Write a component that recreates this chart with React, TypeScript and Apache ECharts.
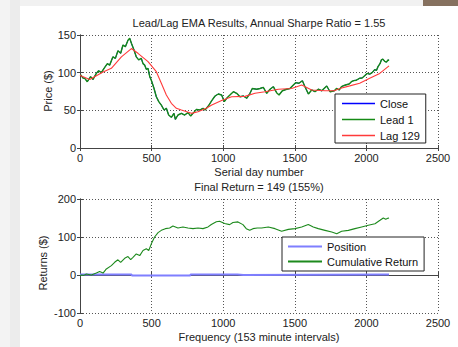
import React, { useEffect, useRef } from "react";
import * as echarts from "echarts";

// ---- Top panel: price (Close = Lead 1), Lag 129 EMA ----
const leadDays = [0, 5, 20, 33, 51, 74, 91, 114, 130, 149, 168, 191, 207, 230, 247, 265, 284, 300, 317, 335, 347, 359, 377, 393, 410, 428, 440, 452, 463, 475, 487, 498, 517, 533, 550, 568, 587, 603, 619, 638, 656, 666, 684, 708, 731, 754, 773, 789, 813, 836, 859, 873, 896, 920, 943, 966, 989, 1008, 1024, 1047, 1071, 1094, 1117, 1141, 1164, 1187, 1203, 1234, 1257, 1280, 1304, 1327, 1350, 1373, 1390, 1413, 1443, 1466, 1483, 1506, 1529, 1553, 1571, 1595, 1618, 1641, 1664, 1688, 1723, 1746, 1776, 1791, 1810, 1826, 1845, 1860, 1880, 1895, 1912, 1930, 1953, 1970, 1988, 2005, 2023, 2040, 2058, 2070, 2081, 2095, 2105, 2115, 2128, 2140, 2151, 2158];
const leadPrice = [97, 97, 93, 92.5, 88, 94.7, 91, 99, 102.6, 100, 105.8, 112, 110, 121, 119, 129, 125.7, 136.7, 134.5, 143, 145.6, 139, 130, 121, 117, 119, 112, 110, 104.4, 105.8, 94.7, 90, 79, 68, 61.5, 57, 50.4, 52.7, 43.8, 40.7, 46, 38, 43.8, 46, 43.8, 47, 42.5, 46, 51.3, 50.4, 52.7, 50.4, 55.7, 62.8, 69, 71.7, 70.4, 61.5, 65.9, 70.4, 74.7, 72.6, 68, 69, 66, 72.6, 79, 78, 79, 80.5, 72.6, 78, 81.4, 73.4, 70.4, 76, 78, 79, 82.3, 86.7, 85.9, 89.3, 81.4, 71.7, 77, 74.7, 78, 76, 82.3, 74.7, 76, 79, 77, 81.5, 83, 84, 85, 88, 89.5, 90, 92.6, 93, 96, 99, 98, 100, 104, 103, 108, 112, 117, 118, 115, 114, 117, 116];
const lagDays = [0, 5, 68, 161, 219, 289, 359, 405, 475, 533, 568, 603, 638, 673, 708, 778, 824, 882, 920, 989, 1059, 1152, 1222, 1292, 1385, 1478, 1548, 1618, 1711, 1776, 1814, 1884, 1953, 2023, 2093, 2158];
const lagPrice = [97, 96, 91, 101, 105.8, 121, 132, 125.7, 114.6, 101.3, 85.9, 70.4, 59.3, 52.7, 50.4, 46, 48.2, 52.7, 57, 63, 68, 68.5, 72.6, 74.7, 78, 79, 83.6, 77, 76, 76, 79, 82.5, 86, 92.6, 99, 109];

// ---- Bottom panel: position and cumulative return ----
const retDays = [0, 9, 25, 44, 79, 114, 137, 161, 184, 219, 242, 265, 284, 312, 335, 354, 370, 393, 417, 440, 463, 480, 498, 521, 545, 568, 596, 626, 649, 684, 719, 754, 789, 824, 859, 894, 917, 952, 975, 1010, 1045, 1068, 1103, 1138, 1161, 1185, 1208, 1238, 1268, 1315, 1362, 1408, 1455, 1501, 1548, 1594, 1629, 1664, 1711, 1758, 1793, 1827, 1874, 1920, 1967, 2013, 2060, 2095, 2118, 2135, 2153, 2158];
const retValue = [-2, 0, -1, 2.6, 0, 5, 9, 5, 16, 24.7, 33.4, 40, 33, 44, 48.5, 40.6, 46.4, 55.3, 51, 64.5, 69, 64.5, 82, 100, 111.5, 117.5, 122, 123.6, 129, 123.6, 126.5, 123.6, 122, 123.6, 122, 126.5, 133, 140, 141.4, 135.3, 132.6, 138, 139.7, 132.6, 122, 117.5, 122, 123.6, 123.6, 126.5, 122, 115, 120, 122, 126.5, 133, 126.5, 122, 117.5, 113, 108.8, 115, 117.5, 122, 126.5, 131, 135, 144, 150, 146.7, 150, 149];
const posDays = [0, 360, 362, 770, 772, 1100, 1102, 1140, 1142, 2158];
const posValue = [1, 1, -1, -1, 1, 1, 0, 0, 1, 1];

const xTicksMax = 2500;
const priceRange = [0, 150];
const retRange = [-100, 200];

const FONT = "'Liberation Sans', Arial, Helvetica, sans-serif";
const zip = (xs: number[], ys: number[]) => xs.map((x, i) => [x, ys[i]]);

const C_CLOSE = "#0000ff";
const C_LEAD = "#158a15";
const C_LAG = "#ff3a3a";
const C_POS = "#7f7fff";
const C_RET = "#1d8a1d";

export default function App() {
  const ref = useRef<HTMLDivElement>(null);
  useEffect(() => {
    if (!ref.current) return;
    const chart = echarts.init(ref.current, undefined, { renderer: "svg" });
    const grids = [
      { left: 80, top: 35, width: 358, height: 113 },
      { left: 80, top: 199, width: 358, height: 114 },
    ];
    const gridLine = { show: true, lineStyle: { color: "#555", type: [1, 2] as any, width: 1 } };
    const label = { color: "#222", fontSize: 11, fontFamily: FONT, formatter: (v: number) => String(v) };
    const axisCol = { show: true, lineStyle: { color: "#444" } };
    const tick = { show: true, inside: true, length: 3, lineStyle: { color: "#444" } };
    const mkX = (gi: number) => [
      {
        type: "value", gridIndex: gi, min: 0, max: xTicksMax, interval: 500,
        axisLine: axisCol, axisTick: tick, axisLabel: { ...label, margin: 4 }, splitLine: gridLine,
      },
      {
        type: "value", gridIndex: gi, min: 0, max: xTicksMax, interval: 500, position: "top",
        axisLine: axisCol, axisTick: tick, axisLabel: { show: false }, splitLine: { show: false },
      },
    ];
    const mkY = (gi: number, r: number[], iv: number) => [
      {
        type: "value", gridIndex: gi, min: r[0], max: r[1], interval: iv,
        axisLine: axisCol, axisTick: tick, axisLabel: { ...label, margin: 4 }, splitLine: gridLine,
      },
      {
        type: "value", gridIndex: gi, min: r[0], max: r[1], interval: iv, position: "right",
        axisLine: axisCol, axisTick: tick, axisLabel: { show: false }, splitLine: { show: false },
      },
    ];
    const txt = (text: string, x: number, y: number, rot = 0) => ({
      type: "text", x, y, rotation: rot, silent: true,
      style: { text, fill: "#222", font: `11px ${FONT}`, textAlign: "center", textVerticalAlign: "middle" },
    });
    const legendText = { color: "#111", fontSize: 11, fontFamily: FONT };
    chart.setOption({
      animation: false,
      backgroundColor: "#ffffff",
      grid: grids,
      xAxis: [...mkX(0), ...mkX(1)],
      yAxis: [...mkY(0, priceRange, 50), ...mkY(1, retRange, 100)],
      legend: [
        {
          data: ["Close", "Lead 1", "Lag 129"], icon: "rect",
          orient: "vertical", left: 335, top: 94,
          itemWidth: 33, itemHeight: 1.5, itemGap: 5, padding: [4, 6, 2, 7],
          borderColor: "#222", borderWidth: 1, backgroundColor: "#fff",
          textStyle: legendText, selectedMode: false,
        },
        {
          data: ["Position", "Cumulative Return"], icon: "rect",
          orient: "vertical", left: 282, top: 237,
          itemWidth: 34, itemHeight: 2, itemGap: 4, padding: [4, 6, 4, 6],
          borderColor: "#222", borderWidth: 1, backgroundColor: "#fff",
          textStyle: legendText, selectedMode: false,
        },
      ],
      series: [
        { name: "Close", type: "line", xAxisIndex: 0, yAxisIndex: 0, data: zip(leadDays, leadPrice), symbol: "none", color: C_CLOSE, lineStyle: { color: C_CLOSE, width: 1 }, itemStyle: { color: C_CLOSE } },
        { name: "Lead 1", type: "line", xAxisIndex: 0, yAxisIndex: 0, data: zip(leadDays, leadPrice), symbol: "none", color: C_LEAD, lineStyle: { color: C_LEAD, width: 1.4 }, itemStyle: { color: C_LEAD } },
        { name: "Lag 129", type: "line", xAxisIndex: 0, yAxisIndex: 0, data: zip(lagDays, lagPrice), symbol: "none", color: C_LAG, lineStyle: { color: C_LAG, width: 1.1 }, itemStyle: { color: C_LAG } },
        { name: "Position", type: "line", xAxisIndex: 2, yAxisIndex: 2, data: zip(posDays, posValue), symbol: "none", color: C_POS, lineStyle: { color: C_POS, width: 2 }, itemStyle: { color: C_POS } },
        { name: "Cumulative Return", type: "line", xAxisIndex: 2, yAxisIndex: 2, data: zip(retDays, retValue), symbol: "none", color: C_RET, lineStyle: { color: C_RET, width: 1.1 }, itemStyle: { color: C_RET } },
      ],
      graphic: [
        { type: "rect", shape: { x: 0, y: 0, width: 10, height: 347 }, style: { fill: "#f3f3f3" }, silent: true, z: -10 },
        { type: "rect", shape: { x: 10, y: 0, width: 10, height: 347 }, style: { fill: "#ececec" }, silent: true, z: -10 },
        { type: "rect", shape: { x: 20, y: 0, width: 403, height: 6 }, style: { fill: "#f1f1f1" }, silent: true, z: -10 },
        { type: "rect", shape: { x: 423, y: 0, width: 35, height: 6 }, style: { fill: "#86715f" }, silent: true, z: -10 },
        txt("Lead/Lag EMA Results, Annual Sharpe Ratio = 1.55", 259, 23),
        txt("Serial day number", 259, 172),
        txt("Final Return = 149 (155%)", 259, 187),
        txt("Frequency (153 minute intervals)", 259, 337),
        txt("Price ($)", 48, 91, Math.PI / 2),
        txt("Returns ($)", 43, 263, Math.PI / 2),
      ],
    });
    return () => chart.dispose();
  }, []);
  return <div ref={ref} style={{ position: "fixed", left: 0, top: 0, width: 458, height: 347 }} />;
}
